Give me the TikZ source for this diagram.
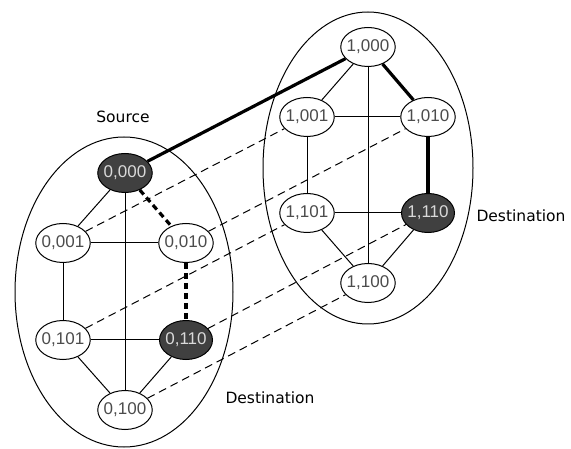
\documentclass[tikz,border=0pt]{standalone}
\usepackage{fontspec}
\setmainfont{Liberation Sans}
\newfontfamily\labfont{DejaVu Sans}
\usetikzlibrary{shapes.geometric}
\tikzset{
  vtx/.style={ellipse,draw=black,line width=1pt,fill=white,inner xsep=-2pt,inner ysep=5pt,
    minimum width=53pt,minimum height=39pt,font=\fontsize{17}{18}\selectfont,text=black!70},
  dark/.style={vtx,fill=black!75,text=white!85!black},
  thinedge/.style={line width=1pt},
  boldedge/.style={line width=3.2pt},
  bolddash/.style={line width=3.2pt,dash pattern=on 6pt off 4pt},
  crossdash/.style={line width=1pt,dash pattern=on 8pt off 5pt},
  captext/.style={font=\labfont\fontsize{15.5}{16}\selectfont},
  cluster/.style={draw,line width=1pt}
}
\begin{document}
\begin{tikzpicture}[x=1pt,y=-1pt]
\useasboundingbox (0,0) rectangle (571,449);
\fill[white] (0,0) rectangle (571,449);
% clusters
\draw[cluster] (124,292) ellipse [x radius=109, y radius=155];
\draw[cluster] (368,168) ellipse [x radius=105, y radius=156];
% nodes left
\node[dark] (a000) at (125,173) {0,000};
\node[vtx] (a001) at (63,243) {0,001};
\node[vtx] (a010) at (186,243) {0,010};
\node[vtx] (a101) at (63,340) {0,101};
\node[dark] (a110) at (186,340) {0,110};
\node[vtx] (a100) at (125,410) {0,100};
% nodes right
\node[vtx] (b000) at (368,47) {1,000};
\node[vtx] (b001) at (307,117) {1,001};
\node[vtx] (b010) at (428,117) {1,010};
\node[vtx] (b101) at (307,213) {1,101};
\node[dark] (b110) at (428,213) {1,110};
\node[vtx] (b100) at (368,283) {1,100};
% cross links
\draw[crossdash] (a001) -- (b001);
\draw[crossdash] (a010) -- (b010);
\draw[crossdash] (a101) -- (b101);
\draw[crossdash] (a110) -- (b110);
\draw[crossdash] (a100) -- (b100);
\draw[boldedge] (a000) -- (b000);
% left edges
\draw[thinedge] (a000) -- (a001);
\draw[thinedge] (a000) -- (a100);
\draw[bolddash] (a000) -- (a010);
\draw[thinedge] (a001) -- (a010);
\draw[thinedge] (a001) -- (a101);
\draw[bolddash] (a010) -- (a110);
\draw[thinedge] (a101) -- (a110);
\draw[thinedge] (a101) -- (a100);
\draw[thinedge] (a110) -- (a100);
% right edges
\draw[thinedge] (b000) -- (b001);
\draw[thinedge] (b000) -- (b100);
\draw[boldedge] (b000) -- (b010);
\draw[thinedge] (b001) -- (b010);
\draw[thinedge] (b001) -- (b101);
\draw[boldedge] (b010) -- (b110);
\draw[thinedge] (b101) -- (b110);
\draw[thinedge] (b101) -- (b100);
\draw[thinedge] (b110) -- (b100);
% captions
\node[captext] (src) at (123,117) {Source};
\node[captext] (dst1) at (270,398) {Destination};
\node[captext] (dst2) at (521,216) {Destination};
\end{tikzpicture}
\end{document}
